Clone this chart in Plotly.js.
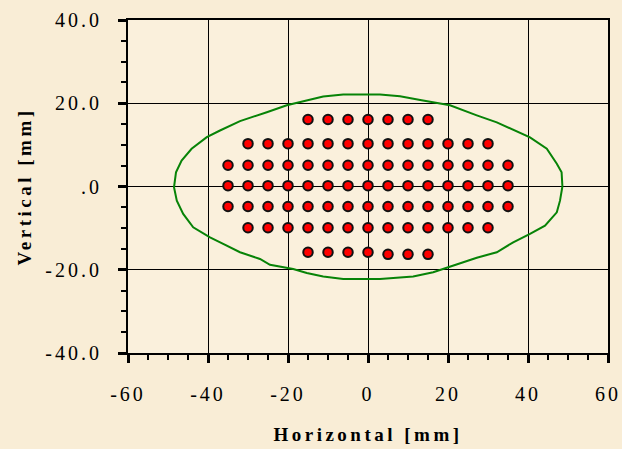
<!DOCTYPE html>
<html>
<head>
<meta charset="utf-8">
<script src="https://cdn.plot.ly/plotly-3.0.1.min.js"></script>
<style>
  html, body { margin: 0; padding: 0; background: #F9EDD6; }
  #chart { width: 622px; height: 449px; }
  .xtick text, .ytick text { letter-spacing: 3px; }
  .g-xtitle text, .g-ytitle text { letter-spacing: 3.5px; }
</style>
</head>
<body>
<div id="chart"></div>
<script>
// ---- Data ----
// Measurement points, row by row (x in mm, y in mm)
const row1X = [-15, -10, -5, 0, 5, 10, 15];
const row1Y = [16.1, 16.1, 16.1, 16.1, 16.1, 16.1, 16.1];
const row2X = [-30, -25, -20, -15, -10, -5, 0, 5, 10, 15, 20, 25, 30];
const row2Y = [10.3, 10.3, 10.3, 10.3, 10.3, 10.3, 10.3, 10.3, 10.3, 10.3, 10.3, 10.3, 10.3];
const row3X = [-35, -30, -25, -20, -15, -10, -5, 0, 5, 10, 15, 20, 25, 30, 35];
const row3Y = [5.1, 5.1, 5.1, 5.1, 5.1, 5.1, 5.1, 5.1, 5.1, 5.1, 5.1, 5.1, 5.1, 5.1, 5.1];
const row4X = [-35, -30, -25, -20, -15, -10, -5, 0, 5, 10, 15, 20, 25, 30, 35];
const row4Y = [0.2, 0.2, 0.2, 0.2, 0.2, 0.2, 0.2, 0.2, 0.2, 0.2, 0.2, 0.2, 0.2, 0.2, 0.2];
const row5X = [-35, -30, -25, -20, -15, -10, -5, 0, 5, 10, 15, 20, 25, 30, 35];
const row5Y = [-4.8, -4.8, -4.8, -4.8, -4.8, -4.8, -4.8, -4.8, -4.8, -4.8, -4.8, -4.8, -4.8, -4.8, -4.8];
const row6X = [-30, -25, -20, -15, -10, -5, 0, 5, 10, 15, 20, 25, 30];
const row6Y = [-9.9, -9.9, -9.9, -9.9, -9.9, -9.9, -9.9, -9.9, -9.9, -9.9, -9.9, -9.9, -9.9];
const row7X = [-15, -10, -5, 0, 5, 10, 15];
const row7Y = [-15.8, -15.8, -15.8, -15.8, -16.3, -16.3, -16.3];

// Boundary contour (green)
const contourX = [48.6, 48.4, 47.2, 44.7, 40.5, 36.75, 32.2, 27.2, 20.5, 13.4, 8, 3, -6.2, -11.2, -16.2, -20.3, -25.3, -32, -37, -40.3, -44.1, -46.6, -48, -48.5, -47.8, -46.2, -43.7, -39.5, -36.2, -32, -27, -24.5, -18.7, -15.3, -11.2, -6.2, 3, 8, 11.3, 16.3, 20.5, 27.2, 32.2, 36.3, 40.5, 44.25, 47.2, 48, 48.6];
const contourY = [0, 3.4, 5.45, 9.06, 11.8, 13.45, 15.4, 17.1, 19.5, 20.7, 21.7, 22.1, 22.1, 21.6, 20.5, 19.5, 17.85, 15.7, 13.45, 11.85, 9.06, 6.25, 3.4, -0.2, -3.4, -6.6, -9.8, -12.2, -13.8, -15.8, -17.4, -18.8, -19.8, -20.8, -21.6, -22.2, -22.2, -21.8, -21.6, -20.6, -19.2, -17.1, -15.8, -13.4, -11.4, -9.4, -6.2, -3.4, 0];

// Tick labels
const xTickVals = [-60, -40, -20, 0, 20, 40, 60];
const xTickText = ["-60", "-40", "-20", "0", "20", "40", "60"];
const yTickVals = [-40, -20, 0, 20, 40];
const yTickText = ["-40.0", "-20.0", ".0", "20.0", "40.0"];

const xTitle = "Horizontal [mm]";
const yTitle = "Vertical [mm]";

// ---- Build traces ----
const pointsX = [].concat(row1X, row2X, row3X, row4X, row5X, row6X, row7X);
const pointsY = [].concat(row1Y, row2Y, row3Y, row4Y, row5Y, row6Y, row7Y);

const traces = [
  {
    x: contourX, y: contourY, type: 'scatter', mode: 'lines',
    line: { color: '#078307', width: 2 },
    hoverinfo: 'skip'
  },
  {
    x: pointsX, y: pointsY, type: 'scatter', mode: 'markers',
    marker: { color: '#FF0000', size: 9.5, line: { color: '#111111', width: 2 } }
  }
];

const fontFam = '"Liberation Serif", "Times New Roman", serif';

const layout = {
  width: 622, height: 449,
  margin: { l: 128, r: 14, t: 20, b: 96 },
  paper_bgcolor: '#F9EDD6',
  plot_bgcolor: '#FAF0DC',
  showlegend: false,
  font: { family: fontFam, color: '#000', size: 20 },
  xaxis: {
    range: [-60, 60], tickmode: 'array', tickvals: xTickVals, ticktext: xTickText,
    showgrid: true, gridcolor: '#000', gridwidth: 1, zeroline: false,
    showline: true, linecolor: '#000', linewidth: 2, mirror: true,
    ticks: 'outside', ticklen: 8, tickwidth: 3, tickcolor: '#000',
    ticklabelstandoff: 14,
    tickfont: { family: fontFam, size: 20, color: '#000' },
    minor: { dtick: 5, tick0: 0, ticks: 'outside', ticklen: 5, tickwidth: 2, tickcolor: '#000', showgrid: false },
    title: { text: xTitle, font: { family: fontFam, size: 19, color: '#000', weight: 'bold' }, standoff: 24 },
    fixedrange: true
  },
  yaxis: {
    range: [-40, 40], tickmode: 'array', tickvals: yTickVals, ticktext: yTickText,
    showgrid: true, gridcolor: '#000', gridwidth: 1, zeroline: false,
    showline: true, linecolor: '#000', linewidth: 2, mirror: true,
    ticks: 'outside', ticklen: 8, tickwidth: 3, tickcolor: '#000',
    ticklabelstandoff: 12,
    tickfont: { family: fontFam, size: 20, color: '#000' },
    minor: { dtick: 5, tick0: 0, ticks: 'outside', ticklen: 5, tickwidth: 2, tickcolor: '#000', showgrid: false },
    title: { text: yTitle, font: { family: fontFam, size: 19, color: '#000', weight: 'bold' }, standoff: 9 },
    fixedrange: true
  }
};

Plotly.newPlot('chart', traces, layout, { staticPlot: true, displayModeBar: false });
</script>
</body>
</html>
